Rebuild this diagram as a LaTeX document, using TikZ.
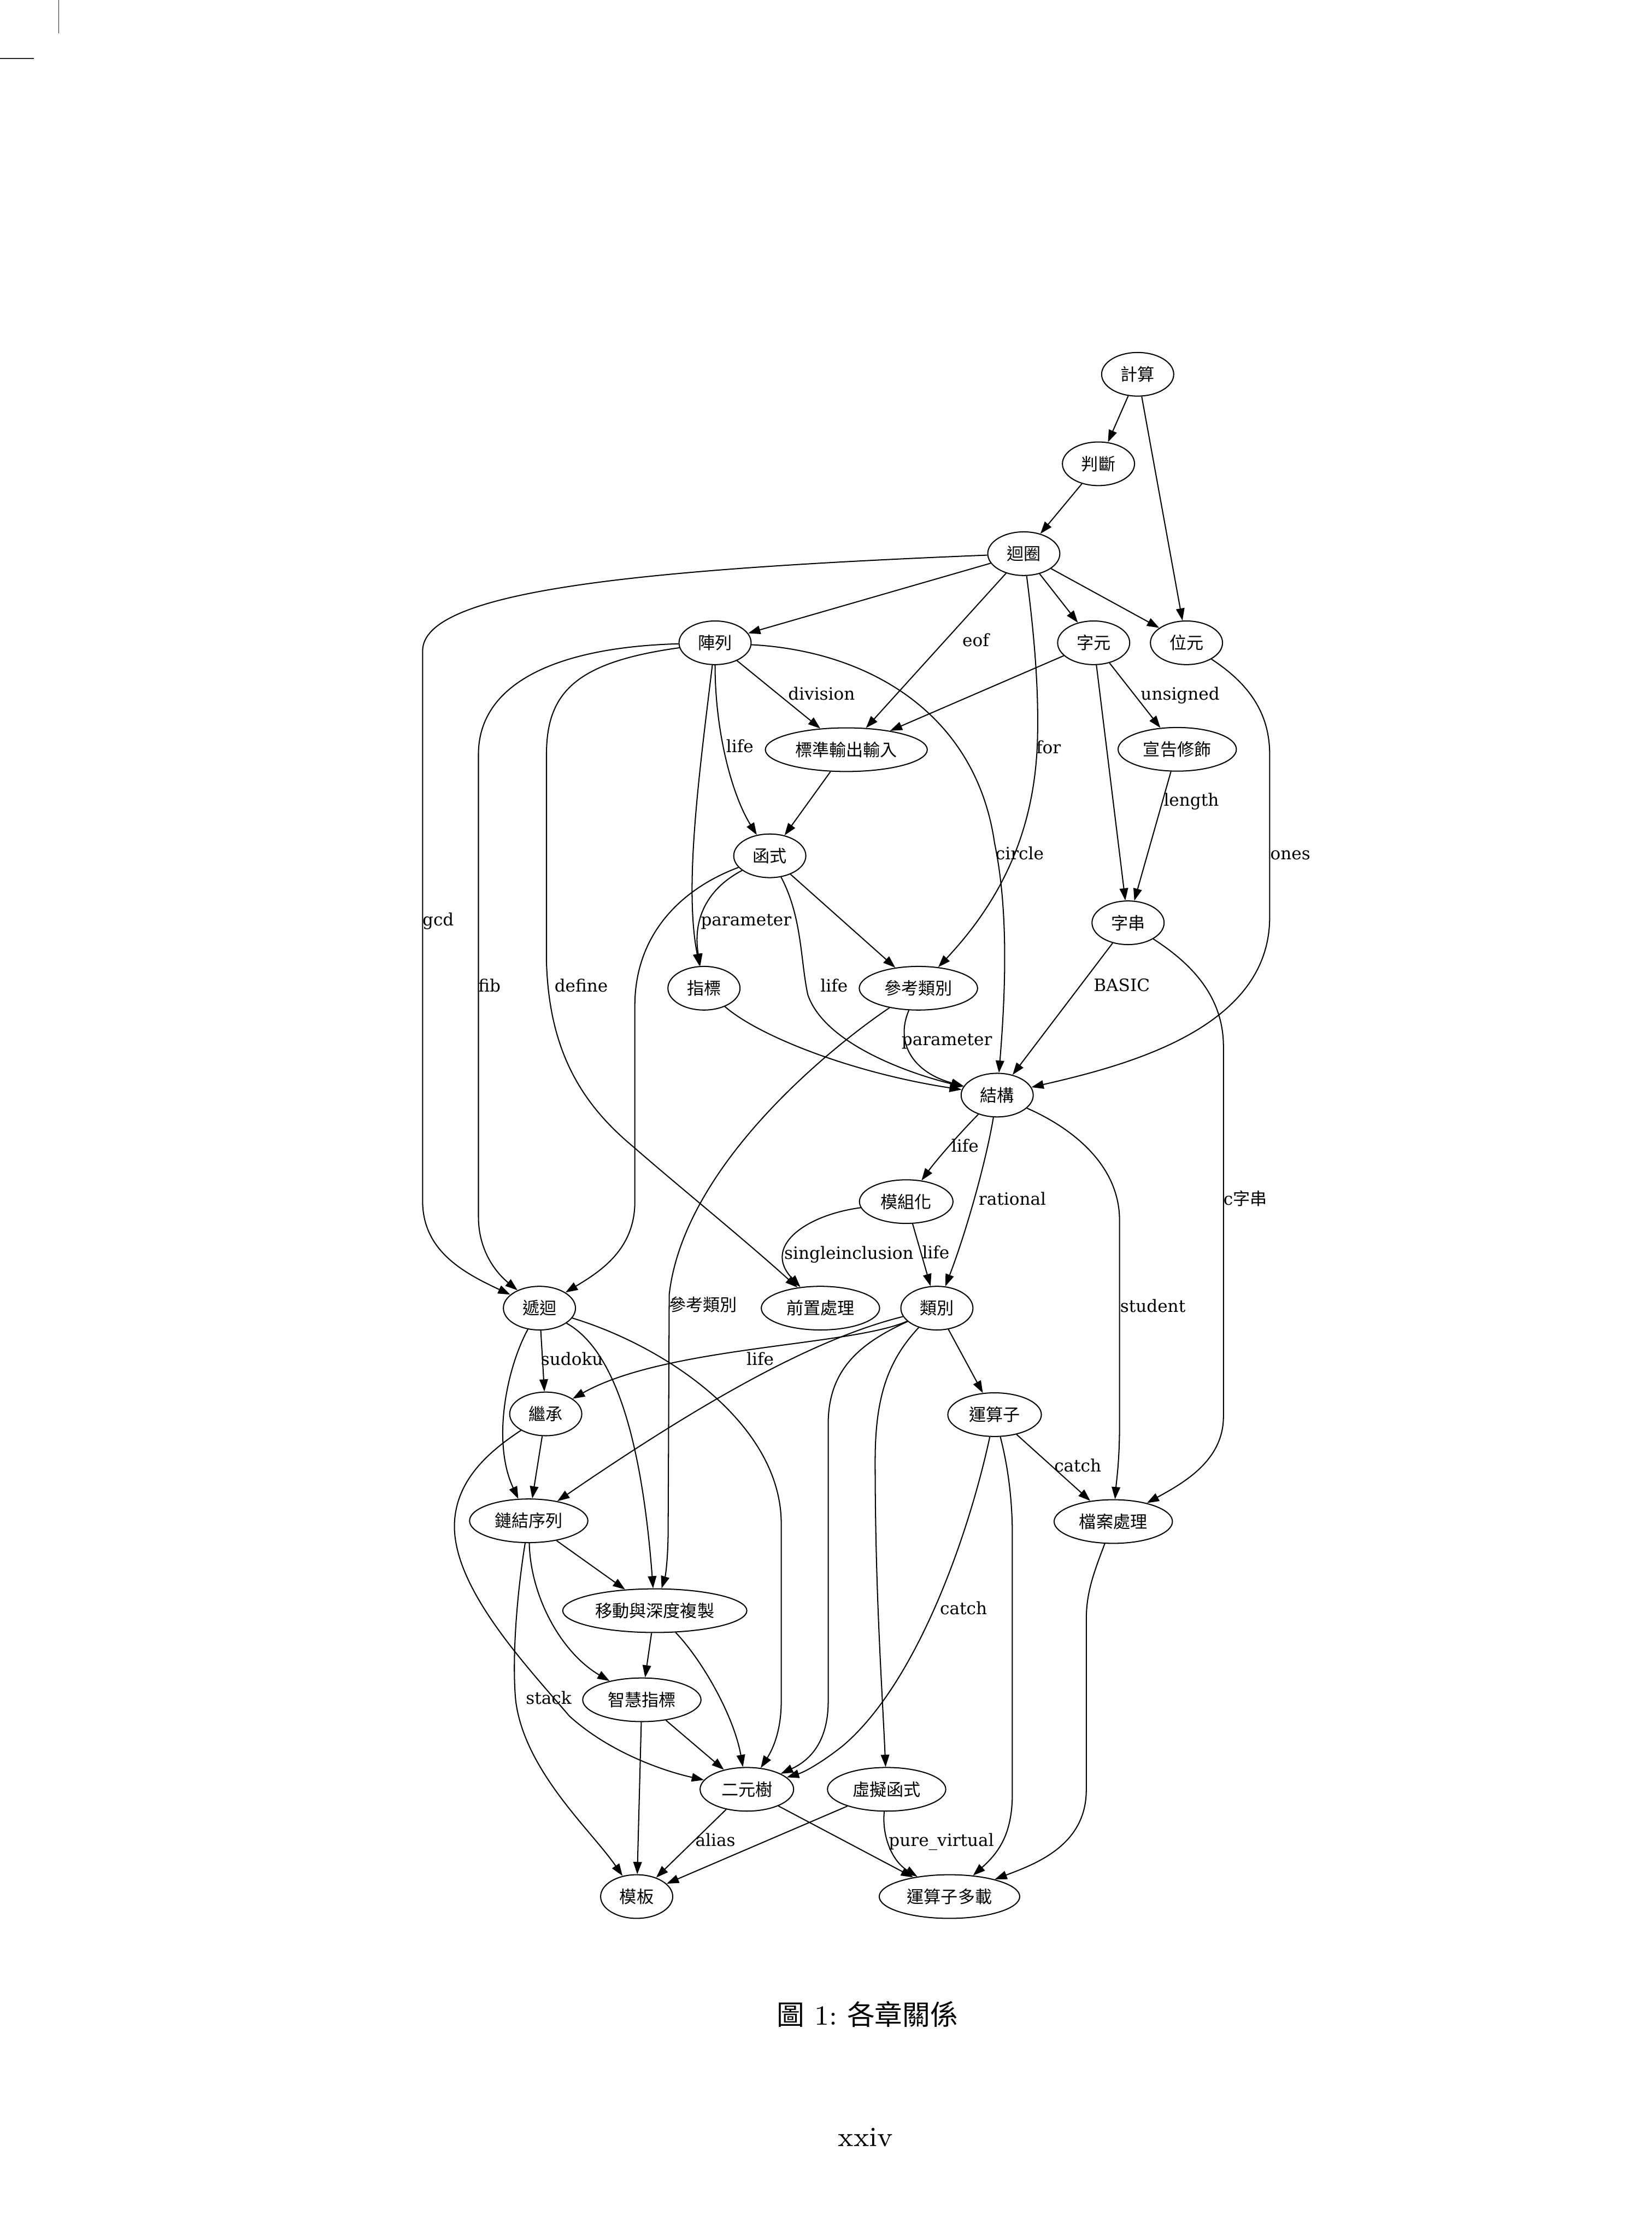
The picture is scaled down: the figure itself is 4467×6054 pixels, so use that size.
\documentclass[tikz,border=0pt]{standalone}
\usepackage{fontspec}
\newfontfamily\cjk{Noto Sans CJK TC}
\newfontfamily\lblfont{DejaVu Serif}
\usetikzlibrary{shapes.geometric,arrows.meta}
\tikzset{
  nd/.style={ellipse, draw, line width=0.3pt, inner sep=0pt, minimum height=11.8pt, font=\cjk\fontsize{4.6pt}{5.5pt}\selectfont},
  w2/.style={minimum width=19.5pt},
  w3/.style={minimum width=25.3pt},
  w4/.style={minimum width=32pt},
  w5/.style={minimum width=38pt},
  w6/.style={minimum width=43.8pt},
  w7/.style={minimum width=49.8pt},
  conn/.style={line width=0.3pt, -{Triangle[length=3.3pt,width=2.3pt]}},
  lbl/.style={inner sep=0pt, text height=3.4pt, text depth=1pt, font=\lblfont\fontsize{4.6pt}{5.5pt}\selectfont},
  pagetext/.style={inner sep=0pt, anchor=base, font=\fontsize{7.5pt}{9pt}\selectfont},
  cropmark/.style={line width=0.22pt, black!85},
}
\begin{document}
\begin{tikzpicture}[x=0.1pt,y=-0.1pt]
\useasboundingbox (0,0) rectangle (4467,6054);
% crop marks
\draw[cropmark] (159,0) -- (159,90);
\draw[cropmark] (0,158) -- (91,158);

% nodes
\node[nd,w2] (jisuan) at (3077,1012) {計算};
\node[nd,w2] (panduan) at (2971,1254) {判斷};
\node[nd,w2] (huiquan) at (2769,1497) {迴圈};
\node[nd,w2] (zhenlie) at (1934,1738) {陣列};
\node[nd,w2] (ziyuan) at (2958,1738) {字元};
\node[nd,w2] (weiyuan) at (3209,1738) {位元};
\node[nd,w6] (stdio) at (2289,2027) {標準輸出輸入};
\node[nd,w4] (xuangao) at (3184,2026) {宣告修飾};
\node[nd,w2] (hanshi) at (2082,2314) {函式};
\node[nd,w2] (zichuan) at (3051,2495) {字串};
\node[nd,w2] (zhibiao) at (1904,2672) {指標};
\node[nd,w4] (cankao) at (2484,2672) {參考類別};
\node[nd,w2] (jiegou) at (2697,2961) {結構};
\node[nd,w3] (mozu) at (2451,3249) {模組化};
\node[nd,w2] (digui) at (1459,3537) {遞迴};
\node[nd,w4] (qianzhi) at (2219,3537) {前置處理};
\node[nd,w2] (leibie) at (2534,3537) {類別};
\node[nd,w2] (jicheng) at (1476,3823) {繼承};
\node[nd,w3] (yunsuanzi) at (2690,3825) {運算子};
\node[nd,w4] (lianjie) at (1430,4112) {鏈結序列};
\node[nd,w4] (dangan) at (3011,4114) {檔案處理};
\node[nd,w7] (yidong) at (1771,4355) {移動與深度複製};
\node[nd,w4] (zhihui) at (1736,4596) {智慧指標};
\node[nd,w3] (erchashu) at (2020,4838) {二元樹};
\node[nd,w4] (xuni) at (2398,4838) {虛擬函式};
\node[nd,w2] (muban) at (1722,5128) {模板};
\node[nd,w5] (duozai) at (2568,5128) {運算子多載};

% edge labels
\node[lbl] (l1) at (2639,1736) {eof};
\node[lbl] (l2) at (2222,1880) {division};
\node[lbl] (l3) at (3192,1880) {unsigned};
\node[lbl] (l4) at (2001,2023) {life};
\node[lbl] (l5) at (2836,2025) {for};
\node[lbl] (l6) at (3222,2168) {length};
\node[lbl] (l7) at (2758,2312) {circle};
\node[lbl] (l8) at (3490,2312) {ones};
\node[lbl] (l9) at (1185,2491) {gcd};
\node[lbl] (l10) at (2018,2491) {parameter};
\node[lbl] (l11) at (1324,2670) {fib};
\node[lbl] (l12) at (1572,2670) {define};
\node[lbl] (l13) at (2256,2670) {life};
\node[lbl] (l14) at (3034,2669) {BASIC};
\node[lbl] (l15) at (2561,2814) {parameter};
\node[lbl] (l16) at (2610,3103) {life};
\node[lbl] (l17) at (2738,3246) {rational};
\node[lbl] (l18) at (3368,3246) {c{\cjk 字串}};
\node[lbl] (l19) at (2296,3392) {singleinclusion};
\node[lbl] (l20) at (2531,3391) {life};
\node[lbl] (l21) at (1902,3533) {\cjk 參考類別};
\node[lbl] (l22) at (3118,3536) {student};
\node[lbl] (l23) at (1547,3680) {sudoku};
\node[lbl] (l24) at (2056,3680) {life};
\node[lbl] (l25) at (2915,3967) {catch};
\node[lbl] (l26) at (2606,4354) {catch};
\node[lbl] (l27) at (1484,4595) {stack};
\node[lbl] (l28) at (1935,4980) {alias};
\node[lbl] (l29) at (2546,4980) {pure\_virtual};

% edges
\draw[conn] (jisuan) -- (panduan);
\draw[conn] (jisuan) -- (weiyuan);
\draw[conn] (panduan) -- (huiquan);

\draw[conn] (huiquan) .. controls (1700,1540) and (1143,1600) .. (1143,1760) -- (1143,3247) .. controls (1143,3380) and (1250,3440) .. (digui);
\draw[conn] (huiquan) -- (zhenlie);
\draw[conn] (huiquan) -- (stdio);
\draw[conn] (huiquan) .. controls (2795,1700) and (2810,1850) .. (2806,2000) .. controls (2800,2200) and (2740,2400) .. (cankao);
\draw[conn] (huiquan) -- (ziyuan);
\draw[conn] (huiquan) -- (weiyuan);

\draw[conn] (zhenlie) .. controls (1500,1750) and (1294,1850) .. (1294,2040) -- (1294,3290) .. controls (1294,3380) and (1340,3440) .. (digui);
\draw[conn] (zhenlie) .. controls (1560,1790) and (1478,1870) .. (1478,2040) -- (1478,2600) .. controls (1485,2850) and (1580,2990) .. (1712,3100) .. controls (1850,3220) and (2000,3340) .. (qianzhi);
\draw[conn] (zhenlie) .. controls (1890,2100) and (1850,2400) .. (zhibiao);
\draw[conn] (zhenlie) .. controls (1934,1980) and (1980,2150) .. (hanshi);
\draw[conn] (zhenlie) -- (stdio);
\draw[conn] (zhenlie) .. controls (2350,1760) and (2640,1930) .. (2690,2280) .. controls (2730,2470) and (2718,2700) .. (jiegou);

\draw[conn] (ziyuan) -- (stdio);
\draw[conn] (ziyuan) -- (xuangao);
\draw[conn] (ziyuan) -- (zichuan);

\draw[conn] (weiyuan) .. controls (3380,1850) and (3434,1930) .. (3434,2040) -- (3434,2480) .. controls (3434,2780) and (3050,2880) .. (jiegou);

\draw[conn] (xuangao) -- (zichuan);
\draw[conn] (stdio) -- (hanshi);

\draw[conn] (hanshi) .. controls (1900,2410) and (1875,2500) .. (zhibiao);
\draw[conn] (hanshi) .. controls (1850,2400) and (1717,2520) .. (1717,2720) -- (1717,3250) .. controls (1717,3380) and (1620,3440) .. (digui);
\draw[conn] (hanshi) -- (cankao);
\draw[conn] (hanshi) .. controls (2170,2480) and (2165,2600) .. (2185,2690) .. controls (2230,2820) and (2450,2900) .. (jiegou);

\draw[conn] (zichuan) -- (jiegou);
\draw[conn] (zichuan) .. controls (3230,2610) and (3309,2700) .. (3309,2830) -- (3309,3830) .. controls (3309,3950) and (3200,4010) .. (dangan);

\draw[conn] (zhibiao) .. controls (2050,2800) and (2300,2900) .. (jiegou);

\draw[conn] (cankao) .. controls (2420,2820) and (2470,2900) .. (jiegou);
\draw[conn] (cankao) .. controls (2250,2830) and (1850,3150) .. (1810,3500) -- (1807,4150) .. controls (1806,4220) and (1800,4260) .. (yidong);

\draw[conn] (jiegou) .. controls (2590,3070) and (2530,3140) .. (mozu);
\draw[conn] (jiegou) .. controls (2665,3150) and (2610,3340) .. (leibie);
\draw[conn] (jiegou) .. controls (2900,3050) and (3028,3150) .. (3028,3300) -- (3028,3850) .. controls (3028,3950) and (3020,4000) .. (dangan);

\draw[conn] (mozu) .. controls (2180,3285) and (2060,3370) .. (qianzhi);
\draw[conn] (mozu) -- (leibie);

\draw[conn] (digui) -- (jicheng);
\draw[conn] (digui) .. controls (1370,3700) and (1330,3900) .. (lianjie);
\draw[conn] (digui) .. controls (1680,3660) and (1740,3950) .. (yidong);
\draw[conn] (digui) .. controls (1800,3640) and (2113,3850) .. (2113,4120) -- (2113,4600) .. controls (2113,4680) and (2090,4730) .. (erchashu);

\draw[conn] (leibie) .. controls (2300,3640) and (1800,3640) .. (jicheng);
\draw[conn] (leibie) .. controls (2200,3620) and (1900,3790) .. (lianjie);
\draw[conn] (leibie) .. controls (2330,3630) and (2240,3700) .. (2240,3850) -- (2240,4600) .. controls (2240,4710) and (2190,4760) .. (erchashu);
\draw[conn] (leibie) .. controls (2400,3680) and (2367,3780) .. (2367,3950) .. controls (2367,4300) and (2385,4550) .. (xuni);
\draw[conn] (leibie) -- (yunsuanzi);

\draw[conn] (jicheng) -- (lianjie);
\draw[conn] (jicheng) .. controls (1330,3920) and (1228,4000) .. (1229,4130) .. controls (1232,4300) and (1420,4500) .. (1540,4640) .. controls (1650,4740) and (1800,4790) .. (erchashu);

\draw[conn] (yunsuanzi) -- (dangan);
\draw[conn] (yunsuanzi) .. controls (2620,4150) and (2480,4550) .. (2280,4720) .. controls (2230,4760) and (2180,4790) .. (erchashu);
\draw[conn] (yunsuanzi) .. controls (2725,3960) and (2738,4050) .. (2738,4150) -- (2738,4850) .. controls (2738,4960) and (2700,5010) .. (duozai);

\draw[conn] (dangan) .. controls (2955,4260) and (2938,4310) .. (2938,4380) -- (2938,4840) .. controls (2938,4990) and (2800,5040) .. (duozai);

\draw[conn] (lianjie) -- (yidong);
\draw[conn] (lianjie) .. controls (1435,4320) and (1520,4470) .. (zhihui);
\draw[conn] (lianjie) .. controls (1395,4330) and (1385,4500) .. (1395,4600) .. controls (1420,4790) and (1600,4950) .. (muban);

\draw[conn] (yidong) -- (zhihui);
\draw[conn] (yidong) .. controls (1900,4490) and (1985,4640) .. (erchashu);

\draw[conn] (zhihui) -- (erchashu);
\draw[conn] (zhihui) -- (muban);

\draw[conn] (erchashu) -- (muban);
\draw[conn] (erchashu) -- (duozai);

\draw[conn] (xuni) -- (muban);
\draw[conn] (xuni) .. controls (2385,4960) and (2410,5030) .. (duozai);

% caption and page number
\node[pagetext] (cap) at (2346,5476) {{\cjk 圖}~1:~{\cjk 各章關係}};
\node[pagetext] (pg) at (2341,5803) {xxiv};
\end{tikzpicture}
\end{document}
